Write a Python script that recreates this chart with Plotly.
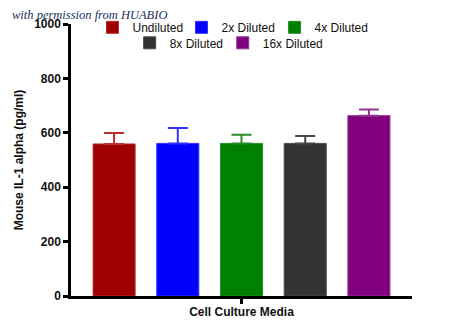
import plotly.graph_objects as go

category = ["Cell Culture Media"]
series = ["Undiluted", "2x Diluted", "4x Diluted", "8x Diluted", "16x Diluted"]
means = [559, 561, 561, 561, 663]
errors = [40, 57, 32, 27, 23]
colors = ["#A00000", "#0000FF", "#008000", "#333333", "#800080"]
err_colors = ["#B83030", "#3030FF", "#2A8C2A", "#4A4A4A", "#933393"]
y_ticks = [0, 200, 400, 600, 800, 1000]

legend_ids = ["legend", "legend2", "legend3", "legend4", "legend5"]
legend_x = [0.063, 0.324, 0.597, 0.172, 0.445]
legend_y = [1.041, 1.041, 1.041, 0.984, 0.984]

fig = go.Figure()
for i, name in enumerate(series):
    fig.add_trace(go.Bar(
        x=category, y=[means[i]], name=name,
        marker=dict(color=colors[i], line=dict(color=err_colors[i], width=1)),
        error_y=dict(type="data", array=[errors[i]], arrayminus=[0], symmetric=False,
                     color=err_colors[i], thickness=2, width=10),
        legend=legend_ids[i],
    ))

font_main = "Liberation Sans, Arial, sans-serif"
layout_legends = {}
for i, lid in enumerate(legend_ids):
    layout_legends[lid] = dict(orientation="h", x=legend_x[i], y=legend_y[i],
                               xanchor="left", yanchor="top",
                               bgcolor="rgba(0,0,0,0)", font=dict(size=12), itemwidth=30)

fig.update_layout(
    width=450, height=336,
    margin=dict(l=71, r=38, t=24, b=40),
    paper_bgcolor="white", plot_bgcolor="white",
    barmode="group", bargap=0.066, bargroupgap=0.34,
    font=dict(family=font_main, size=12, color="#111111"),
    xaxis=dict(
        range=[-0.5, 0.5], showline=True, linecolor="black", linewidth=2.5,
        ticks="outside", ticklen=5, tickwidth=2.5, tickcolor="black",
        showticklabels=False, showgrid=False, zeroline=False,
        title=dict(text="<b>Cell Culture Media</b>", font=dict(size=12), standoff=5),
    ),
    yaxis=dict(
        range=[0, 1000], tickvals=y_ticks, ticktext=[f"<b>{v}</b>" for v in y_ticks],
        showline=True, linecolor="black", linewidth=2.5,
        ticks="outside", ticklen=5, tickwidth=2.5, tickcolor="black",
        showgrid=False, zeroline=False,
        title=dict(text="<b>Mouse IL-1 alpha (pg/ml)</b>", font=dict(size=12), standoff=8),
        tickfont=dict(size=12),
    ),
    showlegend=True,
    **layout_legends,
)

fig.add_annotation(
    text="<i>with permission from HUABIO</i>", xref="paper", yref="paper",
    x=-0.179, y=1.033, xanchor="left", yanchor="middle", showarrow=False,
    font=dict(family="Liberation Serif, DejaVu Serif, serif", size=12.5, color="#1b2f5e"),
)

fig.write_html("out.html")
